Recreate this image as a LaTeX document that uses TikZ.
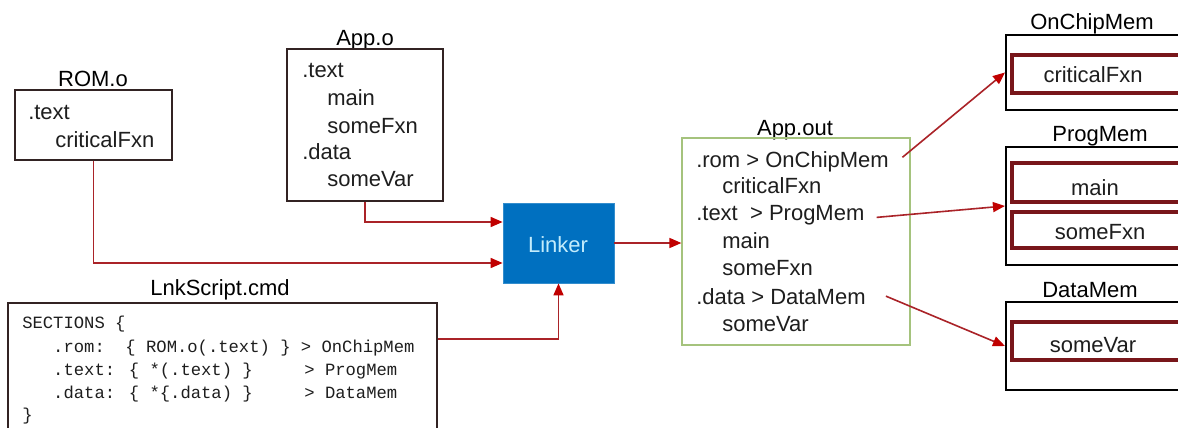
\documentclass[tikz,border=0pt]{standalone}
\usepackage{fontspec}
\setmainfont{Liberation Sans}
\newfontfamily\codefont{Liberation Mono}
\usetikzlibrary{arrows.meta,fit}

\definecolor{wire}{RGB}{170,35,40}
\definecolor{tipred}{RGB}{192,0,0}
\definecolor{linkerblue}{RGB}{0,112,192}
\definecolor{linkertext}{RGB}{195,236,252}
\definecolor{outgreen}{RGB}{165,195,125}
\definecolor{memred}{RGB}{120,22,26}
\definecolor{boxline}{RGB}{50,35,35}
\definecolor{ink}{RGB}{30,30,30}

\begin{document}
\begin{tikzpicture}[x=0.75pt,y=-0.75pt,
  lbl/.style={inner sep=0pt, anchor=base west, font=\fontsize{16.5}{20}\selectfont, text=ink},
  ctr/.style={inner sep=0pt, anchor=base, font=\fontsize{16.5}{20}\selectfont, text=ink},
  code/.style={inner sep=0pt, anchor=base west, font=\codefont\fontsize{12.9}{15}\selectfont, text=ink},
  filebox/.style={draw=boxline, line width=1.1pt, inner sep=0pt},
  outbox/.style={draw=outgreen, line width=0.9pt, inner sep=0pt},
  linkbox/.style={fill=linkerblue, draw=linkerblue!80!white, line width=0.6pt, inner sep=0pt},
  memframe/.style={draw=black, line width=1.6pt, inner sep=0pt},
  memslot/.style={draw=memred, line width=3pt, inner sep=0pt},
  arr/.style={draw=wire, line width=1.2pt,
    -{Triangle[length=9pt,width=7.5pt,color=tipred,fill=tipred]}},
]
\useasboundingbox (0,0) rectangle (1178,428);
\fill[white] (0,0) rectangle (1178,428);
\clip (0,0) rectangle (1178,428);

% ---------- object files ----------
\node[ctr, text=black] (romtitle) at (93,87) {ROM.o};
\node[filebox, fit={(15,90) (172,160)}] (rom) {};
\node[lbl] (rom-1) at (28,119) {.text};
\node[lbl] (rom-2) at (55,147) {criticalFxn};

\node[ctr, text=black] (apptitle) at (365,46) {App.o};
\node[filebox, fit={(287,49) (443,201)}] (appo) {};
\node[lbl] (appo-1) at (302,78) {.text};
\node[lbl] (appo-2) at (327,106) {main};
\node[lbl] (appo-3) at (327,133) {someFxn};
\node[lbl] (appo-4) at (302,159) {.data};
\node[lbl] (appo-5) at (327,186) {someVar};

% ---------- linker command file ----------
\node[ctr, text=black] (lnktitle) at (220,295) {LnkScript.cmd};
\node[filebox, fit={(8,303) (437,445)}] (lnk) {};
\node[code] (lnk-1) at (22,328) {SECTIONS \{};
\node[code] (lnk-2) at (22,352) {\ \ \ .rom:\ \ \{ ROM.o(.text) \} > OnChipMem};
\node[code] (lnk-3) at (22,375) {\ \ \ .text: \{ *(.text) \}\ \ \ \ \ > ProgMem};
\node[code] (lnk-4) at (22,398) {\ \ \ .data: \{ *\{.data) \}\ \ \ \ \ > DataMem};
\node[code] (lnk-5) at (22,420) {\}};

% ---------- linker ----------
\node[linkbox, fit={(503,203) (614,283)}] (linker) {};
\node[ctr, text=linkertext] (linkerlbl) at (558,252) {Linker};

% ---------- output file ----------
\node[ctr, text=black] (aouttitle) at (795,135) {App.out};
\node[outbox, fit={(682,138) (910,345)}] (aout) {};
\node[lbl] (aout-1) at (696,167) {.rom > OnChipMem};
\node[lbl] (aout-2) at (722,193) {criticalFxn};
\node[lbl] (aout-3) at (696,220) {.text\ \ > ProgMem};
\node[lbl] (aout-4) at (722,248) {main};
\node[lbl] (aout-5) at (722,275) {someFxn};
\node[lbl] (aout-6) at (696,304) {.data > DataMem};
\node[lbl] (aout-7) at (722,331) {someVar};

% ---------- memory regions ----------
\node[ctr, text=black] (onchiptitle) at (1092,30) {OnChipMem};
\node[memframe, fit={(1006,35) (1200,110)}] (onchip) {};
\node[memslot, fit={(1012,55) (1188,93)}] (onchip-1) {};
\node[ctr] (onchip-1lbl) at (1093,83) {criticalFxn};

\node[ctr, text=black] (progtitle) at (1100,142) {ProgMem};
\node[memframe, fit={(1006,147) (1200,265)}] (prog) {};
\node[memslot, fit={(1012,163) (1188,202)}] (prog-1) {};
\node[ctr] (prog-1lbl) at (1095,195) {main};
\node[memslot, fit={(1012,212) (1188,248)}] (prog-2) {};
\node[ctr] (prog-2lbl) at (1100,239) {someFxn};

\node[ctr, text=black] (datatitle) at (1090,297) {DataMem};
\node[memframe, fit={(1006,302) (1200,390)}] (data) {};
\node[memslot, fit={(1012,322) (1188,360)}] (data-1) {};
\node[ctr] (data-1lbl) at (1093,352) {someVar};

% ---------- connectors ----------
\draw[arr] (appo.south) |- ([yshift=15.75pt]linker.west);
\draw[arr] (rom.south) |- ([yshift=-15pt]linker.west);
\draw[arr] ([yshift=-27.75pt]lnk.north east) -| (linker.south);
\draw[arr] (linker.east) -- (aout.west |- linker.east);
\draw[arr] ([xshift=10pt,yshift=3pt]aout-1.east) -- (onchip.west);
\draw[arr] ([xshift=9pt,yshift=-2pt]aout-3.east) -- (prog.west);
\draw[arr] ([xshift=15pt]aout-6.east) -- (data.west);
\end{tikzpicture}
\end{document}
